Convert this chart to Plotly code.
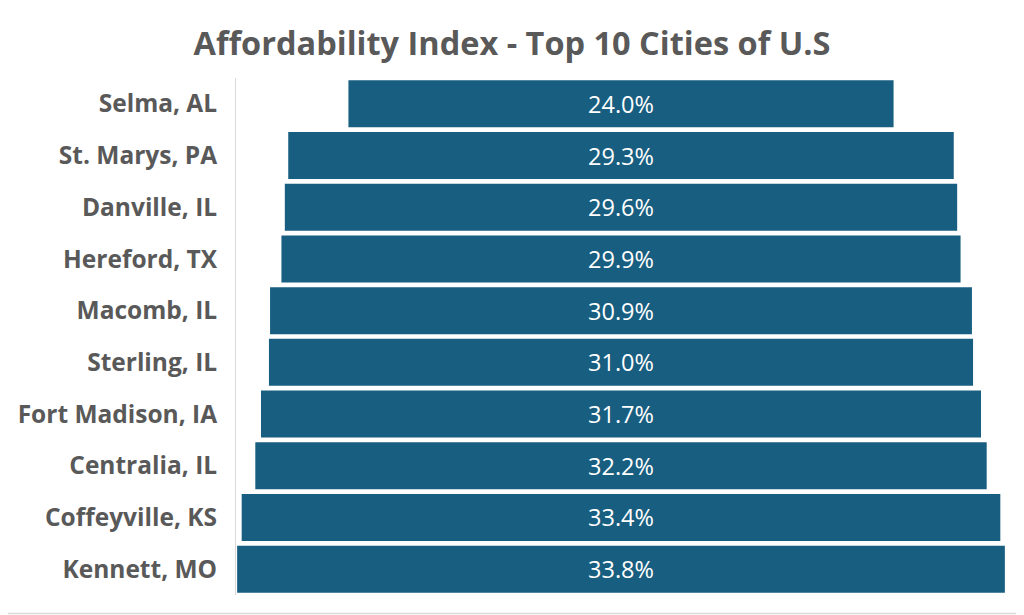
import plotly.graph_objects as go

cities = ["Selma, AL", "St. Marys, PA", "Danville, IL", "Hereford, TX", "Macomb, IL",
          "Sterling, IL", "Fort Madison, IA", "Centralia, IL", "Coffeyville, KS", "Kennett, MO"]
values = [24.0, 29.3, 29.6, 29.9, 30.9, 31.0, 31.7, 32.2, 33.4, 33.8]

OFF = 8  # default page body margin
W, H = 1024 - OFF, 615 - OFF
L, R, T, B = 236 - OFF, 18, 78 - OFF, 20
pw, ph = W - L - R, H - T - B

fig = go.Figure(go.Funnel(
    y=cities, x=values,
    texttemplate="%{x:.1f}%",
    textposition="inside",
    insidetextanchor="middle",
    textfont=dict(family="Open Sans", size=23.5, color="white"),
    marker=dict(color="#185E80", line=dict(width=0)),
    connector=dict(visible=False),
    hoverinfo="skip",
))

half = 16.95
fig.update_layout(
    width=W, height=H,
    margin=dict(l=L, r=R, t=T, b=B, autoexpand=False),
    paper_bgcolor="white", plot_bgcolor="white",
    showlegend=False,
    funnelgap=0.09,
    title=dict(text="Affordability Index - Top 10 Cities of U.S",
               x=0.5 - 4 / W, xref="container", xanchor="center",
               y=1 - 36 / H, yref="container", yanchor="middle",
               font=dict(family="Open Sans", size=32.5, color="#595959", weight=700)),
    xaxis=dict(range=[-half, half], visible=False, fixedrange=True),
    yaxis=dict(showline=True, linecolor="#D9D9D9", linewidth=1, showgrid=False,
               ticks="", ticklabelstandoff=13, automargin=False,
               tickfont=dict(family="Open Sans", size=24.5, color="#595959", weight=700)),
    shapes=[
        dict(type="line", xref="paper", yref="paper",
             x0=(W - 1.5 - L) / pw, x1=(W - 1.5 - L) / pw,
             y0=-(B - 1.5) / ph, y1=1 + T / ph,
             line=dict(color="#D9D9D9", width=1.5), layer="above"),
        dict(type="line", xref="paper", yref="paper",
             x0=-L / pw, x1=(W - 1.5 - L) / pw,
             y0=-(B - 1.5) / ph, y1=-(B - 1.5) / ph,
             line=dict(color="#D9D9D9", width=1.5), layer="above"),
    ],
)

fig.write_html("out.html")
